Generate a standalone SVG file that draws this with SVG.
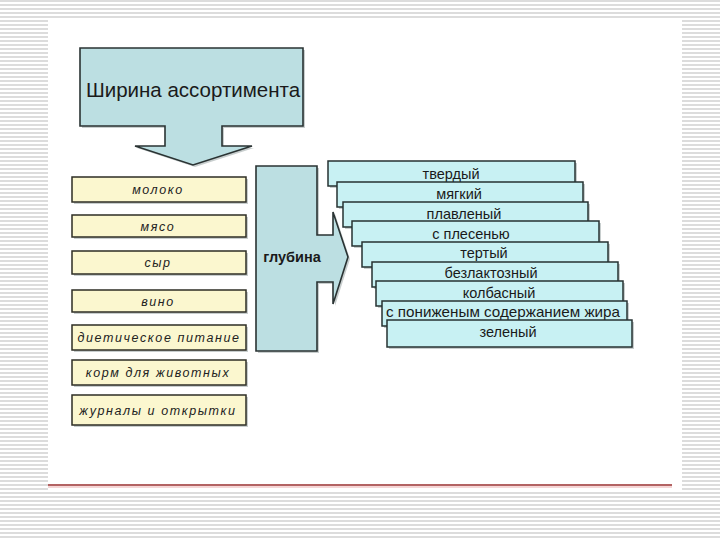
<svg xmlns="http://www.w3.org/2000/svg" width="720" height="540" viewBox="0 0 720 540">
<defs>
<pattern id="stripes" width="4" height="4" patternUnits="userSpaceOnUse">
<rect width="4" height="4" fill="#ffffff"/>
<rect width="4" height="2" fill="#dcdcdc"/>
</pattern>
<style>
.arrowshape{fill:#bcdfe2;stroke:#2a3333;stroke-width:1.6;stroke-linejoin:miter}
.shadow{fill:#9aa6a6;opacity:0.55}
.ybox{fill:#fbf7cf;stroke:#2e2e24;stroke-width:1.5}
.cbox{fill:#c8f1f3;stroke:#263232;stroke-width:1.5}
.ytext{font-family:"Liberation Sans",Arial,sans-serif;font-style:italic;font-size:12.5px;letter-spacing:1.6px;fill:#222;text-anchor:middle}
.ctext{font-family:"Liberation Sans",Arial,sans-serif;font-size:14.5px;fill:#1a1a1a;text-anchor:middle}
.title{font-family:"Liberation Sans",Arial,sans-serif;font-size:20.5px;fill:#1a1a1a;text-anchor:middle}
.depth{font-family:"Liberation Sans",Arial,sans-serif;font-size:14.5px;font-weight:bold;fill:#1a1a1a;text-anchor:middle}
</style>
</defs>
<rect width="720" height="540" fill="url(#stripes)"/>
<rect x="48" y="18" width="634" height="472" fill="#ffffff"/>
<line x1="48" y1="485" x2="672" y2="485" stroke="#9a2f2f" stroke-width="1.5"/>
<line x1="48" y1="487" x2="672" y2="487" stroke="#f2c8c8" stroke-width="1.5"/>

<g id="width-arrow">
<path class="shadow" d="M82,50 H305 V128 H224 V148 H254 L195,167 L137,148 H167 V128 H82 Z"/>
<path class="arrowshape" d="M80,48 H303 V126 H222 V146 H252 L193,165 L135,146 H165 V126 H80 Z"/>
<text class="title" x="193" y="97">Ширина ассортимента</text>
</g>

<g id="depth-arrow">
<path class="shadow" d="M258,168 H319 V237 H335 V214 L350,259 L335,306 V284 H319 V353 H258 Z"/>
<path class="arrowshape" d="M256,166 H317 V235 H333 V212 L348,257 L333,304 V282 H317 V351 H256 Z"/>
<text class="depth" x="292" y="262">глубина</text>
</g>

<g id="y-moloko"><rect class="shadow" x="74" y="179" width="174" height="25"/><rect class="ybox" x="72" y="177" width="174" height="25"/><text class="ytext" x="158" y="194">молоко</text></g>
<g id="y-myaso"><rect class="shadow" x="74" y="217" width="174" height="22"/><rect class="ybox" x="72" y="215" width="174" height="22"/><text class="ytext" x="158" y="231">мясо</text></g>
<g id="y-syr"><rect class="shadow" x="74" y="253" width="174" height="23"/><rect class="ybox" x="72" y="251" width="174" height="23"/><text class="ytext" x="158" y="267">сыр</text></g>
<g id="y-vino"><rect class="shadow" x="74" y="292" width="174" height="22"/><rect class="ybox" x="72" y="290" width="174" height="22"/><text class="ytext" x="158" y="306">вино</text></g>
<g id="y-diet"><rect class="shadow" x="74" y="327" width="174" height="25"/><rect class="ybox" x="72" y="325" width="174" height="25"/><text class="ytext" x="159" y="342">диетическое питание</text></g>
<g id="y-korm"><rect class="shadow" x="74" y="362" width="174" height="25"/><rect class="ybox" x="72" y="360" width="174" height="25"/><text class="ytext" x="158" y="377">корм для животных</text></g>
<g id="y-zhurnaly"><rect class="shadow" x="74" y="397" width="174" height="30"/><rect class="ybox" x="72" y="395" width="174" height="30"/><text class="ytext" x="158" y="415">журналы и открытки</text></g>

<g id="c-tverdy"><rect class="shadow" x="330" y="163" width="247" height="25"/><rect class="cbox" x="328" y="161" width="247" height="25"/><text class="ctext" x="451" y="179">твердый</text></g>
<g id="c-myagky"><rect class="shadow" x="339" y="184" width="246" height="25"/><rect class="cbox" x="337" y="182" width="246" height="25"/><text class="ctext" x="459" y="199">мягкий</text></g>
<g id="c-plavleny"><rect class="shadow" x="345" y="204" width="245" height="25"/><rect class="cbox" x="343" y="202" width="245" height="25"/><text class="ctext" x="464" y="219">плавленый</text></g>
<g id="c-plesen"><rect class="shadow" x="354" y="223" width="247" height="25"/><rect class="cbox" x="352" y="221" width="247" height="25"/><text class="ctext" x="471" y="239">с плесенью</text></g>
<g id="c-terty"><rect class="shadow" x="364" y="244" width="246" height="25"/><rect class="cbox" x="362" y="242" width="246" height="25"/><text class="ctext" x="484" y="258">тертый</text></g>
<g id="c-bezlakt"><rect class="shadow" x="374" y="264" width="246" height="25"/><rect class="cbox" x="372" y="262" width="246" height="25"/><text class="ctext" x="491" y="278">безлактозный</text></g>
<g id="c-kolbas"><rect class="shadow" x="378" y="283" width="247" height="25"/><rect class="cbox" x="376" y="281" width="247" height="25"/><text class="ctext" x="499" y="298">колбасный</text></g>
<g id="c-ponizh"><rect class="shadow" x="384" y="303" width="245" height="25"/><rect class="cbox" x="382" y="301" width="245" height="25"/><text class="ctext" x="503" y="317" textLength="234" lengthAdjust="spacingAndGlyphs">с пониженым содержанием жира</text></g>
<g id="c-zeleny"><rect class="shadow" x="389" y="322" width="245" height="27"/><rect class="cbox" x="387" y="320" width="245" height="27"/><text class="ctext" x="508" y="337">зеленый</text></g>
</svg>
